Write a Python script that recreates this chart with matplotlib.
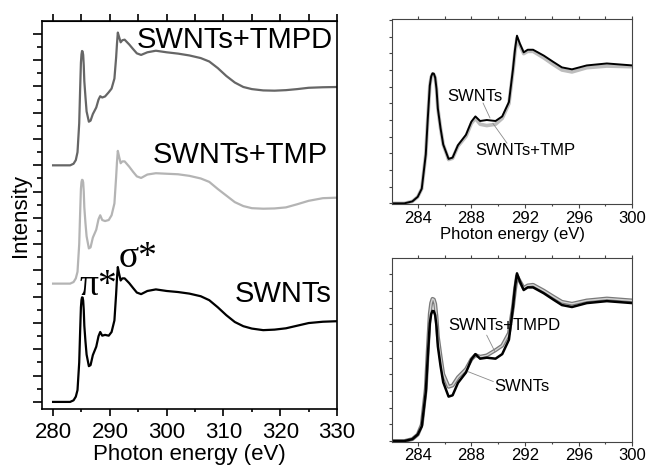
import numpy as np
import matplotlib
matplotlib.use('Agg')
import matplotlib.pyplot as plt
from matplotlib.ticker import MultipleLocator
import matplotlib.patheffects as pe

plt.rcParams['font.family'] = ['Liberation Sans', 'DejaVu Sans']

# ---- Data ---- #
energy = [280, 283.0, 283.6, 284.0, 284.3, 284.6, 284.75, 284.9, 285.0, 285.1,
          285.2, 285.3, 285.4, 285.5, 285.7, 285.9, 286.3, 286.6, 287.0, 287.6,
          288.0, 288.3, 288.65, 289.15, 289.8, 290.3, 290.8, 291.1, 291.25, 291.4,
          291.6, 291.9, 292.2, 292.6, 293.4, 294.1, 294.75, 295.5, 296.6, 298.1,
          300, 302, 304, 306, 307.5, 309, 310.5, 312, 313.5, 315,
          317, 319, 321, 323, 325, 327.5, 330]

swnts = [0, 0, 0.06, 0.2, 0.45, 1.5, 2.6, 3.6, 3.88, 3.98,
         3.97, 3.85, 3.5, 2.9, 2.3, 1.8, 1.36, 1.4, 1.78, 2.1,
         2.5, 2.66, 2.52, 2.55, 2.52, 2.66, 3.1, 4.1, 4.7, 5.13,
         4.9, 4.62, 4.7, 4.7, 4.52, 4.33, 4.16, 4.1, 4.22, 4.28,
         4.22, 4.18, 4.12, 4.02, 3.87, 3.6, 3.3, 3.04, 2.88, 2.79,
         2.73, 2.75, 2.8, 2.9, 3.0, 3.05, 3.07]

swnts_tmp = [0, 0, 0.06, 0.2, 0.45, 1.5, 2.6, 3.6, 3.86, 3.95,
             3.94, 3.85, 3.5, 2.9, 2.3, 1.8, 1.34, 1.38, 1.75, 2.05,
             2.45, 2.6, 2.42, 2.38, 2.42, 2.6, 3.05, 4.05, 4.62, 5.05,
             4.85, 4.58, 4.65, 4.65, 4.45, 4.25, 4.08, 4.02, 4.15, 4.2,
             4.18, 4.16, 4.1, 4.0, 3.87, 3.6, 3.35, 3.1, 2.95, 2.87,
             2.85, 2.86, 2.9, 3.02, 3.15, 3.25, 3.27]

swnts_tmpd = [0, 0, 0.06, 0.2, 0.5, 1.6, 2.8, 3.9, 4.22, 4.35,
              4.33, 4.2, 3.8, 3.2, 2.6, 2.05, 1.66, 1.7, 1.95, 2.2,
              2.5, 2.63, 2.58, 2.62, 2.78, 2.92, 3.3, 4.1, 4.62, 5.05,
              4.9, 4.68, 4.76, 4.78, 4.6, 4.42, 4.26, 4.2, 4.3, 4.36,
              4.3, 4.25, 4.18, 4.08, 3.95, 3.7, 3.4, 3.15, 2.98, 2.9,
              2.85, 2.84, 2.86, 2.9, 2.95, 2.97, 2.98]

offset_tmp = 4.5
offset_tmpd = 9.0

E = np.array(energy)
s0 = np.array(swnts)
s1 = np.array(swnts_tmp)
s2 = np.array(swnts_tmpd)

fig = plt.figure(figsize=(6.48, 4.66), dpi=100)

# ---- Left: stacked spectra ---- #
ax = fig.add_axes([0.0644, 0.1223, 0.4557, 0.8326])
ax.plot(E, s0, color='black', lw=1.6)
ax.plot(E, s1 + offset_tmp, color='#b4b4b4', lw=1.6)
ax.plot(E, s2 + offset_tmpd, color='#666666', lw=1.6)

ax.set_xlim(278, 330)
ax.set_ylim(-0.27, 14.49)
ax.xaxis.set_major_locator(MultipleLocator(10))
ax.xaxis.set_minor_locator(MultipleLocator(5))
ax.yaxis.set_major_locator(MultipleLocator(1))
ax.yaxis.set_minor_locator(MultipleLocator(0.5))
ax.set_yticklabels([])
ax.tick_params(axis='x', which='major', direction='out', length=5, width=1.2,
               labelsize=16, pad=4)
ax.tick_params(axis='x', which='minor', direction='out', length=2.5, width=1.2)
ax.tick_params(axis='y', which='major', direction='out', length=6.5, width=1.2)
ax.tick_params(axis='y', which='minor', direction='out', length=3.5, width=1.2)
for sp in ax.spines.values():
    sp.set_linewidth(1.2)
top = ax.secondary_xaxis('top')
top.xaxis.set_major_locator(MultipleLocator(5))
top.tick_params(direction='out', length=5, width=1.2, labeltop=False)
ax.set_xlabel('Photon energy (eV)', fontsize=16, labelpad=1)
ax.set_ylabel('Intensity', fontsize=16, labelpad=-2)

ax.text(329.3, 13.46, 'SWNTs+TMPD', fontsize=21, ha='right', va='baseline')
ax.text(328.4, 9.09, 'SWNTs+TMP', fontsize=21, ha='right', va='baseline')
ax.text(329.1, 3.8, 'SWNTs', fontsize=21, ha='right', va='baseline')
greek = ['Liberation Serif', 'DejaVu Serif']
ax.text(284.7, 4.07, 'π*', fontsize=27, family=greek, ha='left', va='baseline')
ax.text(291.5, 5.13, 'σ*', fontsize=27, family=greek, ha='left', va='baseline')


def style_inset(a):
    a.set_xlim(282.06, 300)
    a.xaxis.set_major_locator(MultipleLocator(4))
    a.xaxis.set_minor_locator(MultipleLocator(2))
    a.yaxis.set_major_locator(MultipleLocator(0.51))
    a.set_yticklabels([])
    a.tick_params(axis='x', which='major', direction='out', length=2.7, width=0.8,
                  labelsize=12, pad=2, color='#444444')
    a.tick_params(axis='x', which='minor', direction='out', length=1.5, width=0.8,
                  color='#444444')
    a.tick_params(axis='y', direction='out', length=2, width=0.8, color='#444444')
    for sp in a.spines.values():
        sp.set_linewidth(0.8)
        sp.set_color('#444444')
    t = a.secondary_xaxis('top')
    t.xaxis.set_major_locator(MultipleLocator(2))
    t.tick_params(direction='out', length=2, width=0.8, labeltop=False, color='#444444')
    t.spines['top'].set_visible(False)


leader = dict(arrowstyle='-', color='#8a8a8a', lw=0.6, shrinkA=0, shrinkB=0)

# ---- Top right: SWNTs vs SWNTs+TMP ---- #
ax1 = fig.add_axes([0.6045, 0.5622, 0.3713, 0.397])
ax1.plot(E, s1, color='#bdbdbd', lw=2.6)
ax1.plot(E, s0, color='black', lw=1.4)
ax1.set_ylim(-0.02, 5.64)
style_inset(ax1)
ax1.set_xlabel('Photon energy (eV)', fontsize=12, labelpad=1)
ax1.text(288.27, 3.28, 'SWNTs', fontsize=12, ha='center', va='center')
ax1.annotate('', xy=(289.39, 2.61), xytext=(288.87, 3.07), arrowprops=leader)
ax1.text(292.0, 1.63, 'SWNTs+TMP', fontsize=12, ha='center', va='center')
ax1.annotate('', xy=(289.6, 2.45), xytext=(290.66, 1.84), arrowprops=leader)

# ---- Bottom right: SWNTs vs SWNTs+TMPD ---- #
ax2 = fig.add_axes([0.6045, 0.0521, 0.3713, 0.3936])
ax2.plot(E, s2, color='#d4d4d4', lw=1.0,
         path_effects=[pe.Stroke(linewidth=2.8, foreground='#7a7a7a'), pe.Normal()])
ax2.plot(E, s0, color='black', lw=1.8)
ax2.set_ylim(-0.02, 5.59)
style_inset(ax2)
ax2.text(290.47, 3.55, 'SWNTs+TMPD', fontsize=12, ha='center', va='center')
ax2.annotate('', xy=(289.76, 2.73), xytext=(289.14, 3.24), arrowprops=leader)
ax2.text(291.75, 1.66, 'SWNTs', fontsize=12, ha='center', va='center')
ax2.annotate('', xy=(287.77, 2.12), xytext=(289.64, 1.82), arrowprops=leader)

fig.savefig('out.png', dpi=100)
